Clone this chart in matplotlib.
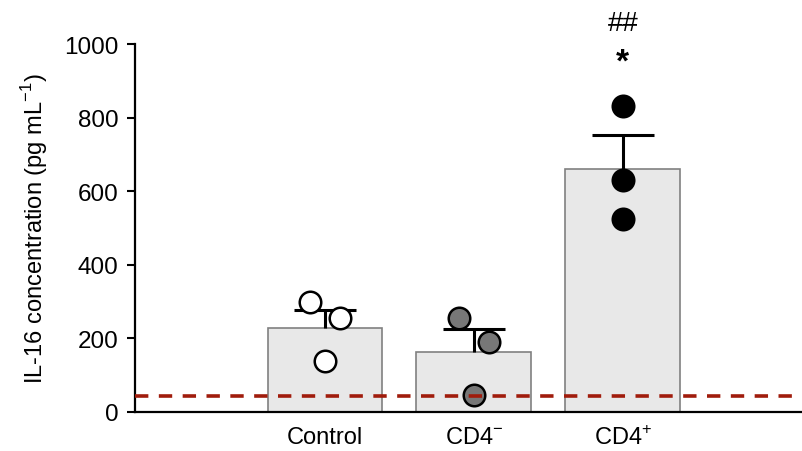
import numpy as np
import matplotlib.pyplot as plt

plt.rcParams['font.family'] = ['Liberation Sans', 'DejaVu Sans']
plt.rcParams['mathtext.fontset'] = 'custom'
plt.rcParams['mathtext.rm'] = 'Liberation Sans'

groups = ['Control', 'CD4$^{-}$', 'CD4$^{+}$']
means = [228, 163, 660]
sems = [49, 63, 93]
points = [[299, 255, 139], [255, 190, 46], [832, 630, 524]]
point_offsets = [[-0.1, 0.1, 0.0], [-0.1, 0.1, 0.0], [0.0, 0.0, 0.0]]
point_colors = ['white', '#777777', 'black']
detection_limit = 43


def main():
    fig = plt.figure(figsize=(8.03, 4.52), dpi=100)
    ax = fig.add_axes([135 / 803, 39 / 452, 668 / 803, 368 / 452])
    x = np.arange(1, len(groups) + 1)

    ax.bar(x, means, width=0.77, color='#e8e8e8', edgecolor='#808080',
           linewidth=1.2, zorder=1)
    eb = ax.errorbar(x, means, yerr=[np.zeros(len(sems)), sems], fmt='none',
                     ecolor='black', elinewidth=2.2, capsize=22, capthick=2.2,
                     zorder=2)
    eb[1][0].set_visible(False)  # only the upper cap
    for i in range(len(groups)):
        ax.plot(x[i] + np.array(point_offsets[i]), points[i], 'o', ms=15.5,
                mfc=point_colors[i], mec='black', mew=1.8, zorder=3,
                clip_on=False)
    ax.axhline(detection_limit, color='#a01c0c', lw=2.6, ls=(0, (3.7, 2.9)),
               zorder=4)

    ax.text(3, 950, '*', ha='center', va='center', fontsize=24, fontweight='bold')
    ax.text(3, 1058, '##', ha='center', va='center', fontsize=20)

    ax.set_xlim(-0.275, 4.21)
    ax.set_ylim(0, 1000)
    ax.set_yticks([0, 200, 400, 600, 800, 1000])
    ax.set_xticks(x)
    ax.set_xticklabels(groups)
    ax.tick_params(axis='x', length=0, pad=10, labelsize=17)
    ax.tick_params(axis='y', length=6, width=1.5, labelsize=17.5, pad=6)
    ax.set_ylabel('IL-16 concentration (pg mL$^{-1}$)', fontsize=17, labelpad=10)
    for s in ['top', 'right']:
        ax.spines[s].set_visible(False)
    for s in ['left', 'bottom']:
        ax.spines[s].set_linewidth(1.6)

    fig.savefig('out.png', dpi=100)


if __name__ == '__main__':
    main()
